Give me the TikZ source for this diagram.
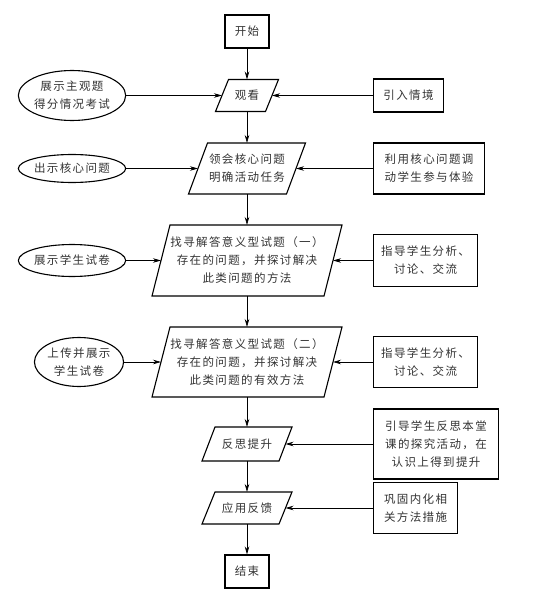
\documentclass[tikz,border=0pt]{standalone}
\usepackage{fontspec}
\setmainfont[LetterSpace=12]{Noto Sans CJK SC}
\usetikzlibrary{shapes.geometric,arrows.meta}

% parallelogram round a plain node: #1 node name, #2 half of the slant
\newcommand\iopath[2]{%
  \draw[line width=1.1pt] ([xshift=#2]#1.north west) -- ([xshift=#2]#1.north east)
    -- ([xshift=-#2]#1.south east) -- ([xshift=-#2]#1.south west) -- cycle;}

\begin{document}
\begin{tikzpicture}[x=1pt, y=-1pt,
  font=\fontsize{11.5}{18}\selectfont,
  every node/.style={align=center, inner sep=0pt, line width=1.1pt, text=black!80},
  startstop/.style={draw, rectangle, minimum width=44pt, minimum height=33pt},
  iobox/.style={rectangle, outer sep=0pt},
  ellipsebox/.style={draw, ellipse},
  notebox/.style={draw, rectangle, anchor=west},
  flow/.style={line width=0.7pt, -{Stealth[length=8pt, width=4.5pt]}}]
  \useasboundingbox (0,0) rectangle (549,607);

  % --- main column ---
  \node[startstop] (begin) at (247,31.5) {开始};
  \node[iobox, minimum width=50pt, minimum height=32pt] (watch) at (247,95.5) {观看};
  \node[iobox, minimum width=98pt, minimum height=51pt] (grasp) at (247,168.5)
    {领会核心问题\\明确活动任务};
  \node[iobox, minimum width=172pt, minimum height=71pt] (seekA) at (247,260.5)
    {找寻解答意义型试题（一）\\存在的问题，并探讨解决\\此类问题的方法};
  \node[iobox, minimum width=172pt, minimum height=70pt] (seekB) at (247,362)
    {找寻解答意义型试题（二）\\存在的问题，并探讨解决\\此类问题的有效方法};
  \node[iobox, minimum width=77pt, minimum height=34pt] (reflect) at (247,444) {反思提升};
  \node[iobox, minimum width=77pt, minimum height=32pt] (apply) at (247,508) {应用反馈};
  \node[startstop] (finish) at (247,571.5) {结束};
  \iopath{watch}{6.5pt}
  \iopath{grasp}{9.5pt}
  \iopath{seekA}{9pt}
  \iopath{seekB}{9pt}
  \iopath{reflect}{6.5pt}
  \iopath{apply}{6.5pt}

  % --- left: teacher shows ---
  \node[ellipsebox, minimum width=97pt, minimum height=50pt] (showA) at (72,95.5)
    {展示主观题\\得分情况考试};
  \node[ellipsebox, minimum width=95pt, minimum height=28pt] (showB) at (72,168.5)
    {出示核心问题};
  \node[ellipsebox, minimum width=98pt, minimum height=32pt] (showC) at (72,260.5)
    {展示学生试卷};
  \node[ellipsebox, minimum width=84pt, minimum height=49pt] (showD) at (79,362)
    {上传并展示\\学生试卷};

  % --- right: aims ---
  \node[notebox, minimum width=70pt, minimum height=33pt] (aimA) at (373,95.5) {引入情境};
  \node[notebox, minimum width=111pt, minimum height=51pt] (aimB) at (373,168.5)
    {利用核心问题调\\动学生参与体验};
  \node[notebox, minimum width=104pt, minimum height=52pt] (aimC) at (373,260.5)
    {指导学生分析、\\讨论、交流};
  \node[notebox, minimum width=104pt, minimum height=51pt] (aimD) at (373,362)
    {指导学生分析、\\讨论、交流};
  \node[notebox, minimum width=125pt, minimum height=70pt] (aimE) at (373,444)
    {引导学生反思本堂\\课的探究活动，在\\认识上得到提升};
  \node[notebox, minimum width=84pt, minimum height=51pt] (aimF) at (373,508)
    {巩固内化相\\关方法措施};

  % --- connectors ---
  \draw[flow] (begin) -- (watch);
  \draw[flow] (watch) -- (grasp);
  \draw[flow] (grasp) -- (seekA);
  \draw[flow] (seekA) -- (seekB);
  \draw[flow] (seekB) -- (reflect);
  \draw[flow] (reflect) -- (apply);
  \draw[flow] (apply) -- (finish);
  \draw[flow] (showA) -- (watch);
  \draw[flow] (showB) -- (grasp);
  \draw[flow] (showC) -- (seekA);
  \draw[flow] (showD) -- (seekB);
  \draw[flow] (aimA) -- (watch);
  \draw[flow] (aimB) -- (grasp);
  \draw[flow] (aimC) -- (seekA);
  \draw[flow] (aimD) -- (seekB);
  \draw[flow] (aimE) -- (reflect);
  \draw[flow] (aimF) -- (apply);
\end{tikzpicture}
\end{document}
